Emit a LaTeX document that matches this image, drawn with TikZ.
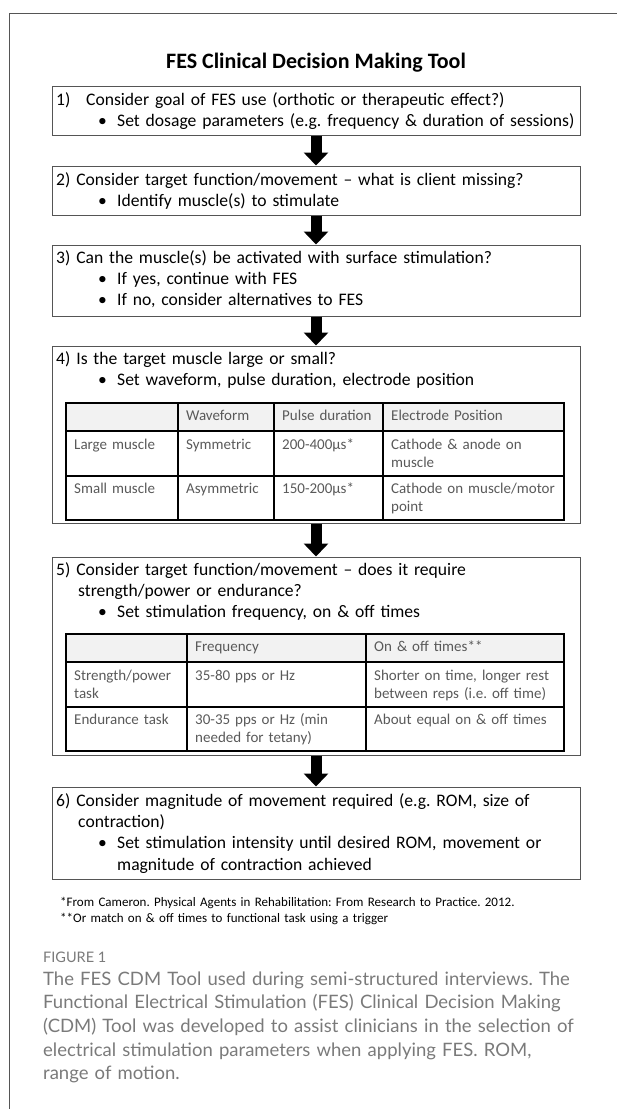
\documentclass[tikz,border=0pt]{standalone}
\usepackage{fontspec}
\setmainfont{Carlito}
\newfontfamily\capfont{Lato}
\usepackage{xcolor}
\usetikzlibrary{arrows.meta,calc,positioning}
\definecolor{boxgray}{HTML}{555555}
\definecolor{cellgray}{HTML}{595959}
\definecolor{headfill}{HTML}{F2F2F2}
\definecolor{capgray}{HTML}{7A7A7A}
\newcommand{\bul}{\hspace*{42pt}\makebox[19pt][l]{\textbullet}}
\frenchspacing

\begin{document}
\begin{tikzpicture}[x=1pt,y=-1pt,
  box/.style={draw=boxgray,line width=1pt,minimum width=528pt,inner sep=0pt},
  txt/.style={anchor=base west,inner sep=0pt,align=left,text width=540pt,font=\fontsize{17.6}{21.4}\selectfont},
  cell/.style={anchor=base west,inner sep=0pt,align=left,text width=180pt,text=cellgray,font=\fontsize{15}{18.3}\selectfont},
  tab/.style={line width=1.1pt},
  fat/.style={line width=11pt,-{Triangle[length=13pt,width=24pt]}}]
\useasboundingbox (0,0) rectangle (617,1109);
\draw[boxgray,line width=1pt] (617,13)--(9,13)--(9,1109);
\node[anchor=base,font=\bfseries\fontsize{22}{26}\selectfont] (title) at (316,68) {FES Clinical Decision Making Tool};
% step boxes
\node[box,minimum height=49pt] (b1) at (316,110.5) {};
\node[box,minimum height=49pt] (b2) at (316,190.5) {};
\node[box,minimum height=71pt] (b3) at (316,280.5) {};
\node[box,minimum height=177pt] (b4) at (316,434.5) {};
\node[box,minimum height=198pt] (b5) at (316,656) {};
\node[box,minimum height=92pt] (b6) at (316,833) {};
\draw[fat] (b1.south) -- (b2.north); \draw[fat] (b2.south) -- (b3.north);
\draw[fat] (b3.south) -- (b4.north); \draw[fat] (b4.south) -- (b5.north);
\draw[fat] (b5.south) -- (b6.north);
\node[txt] (t1) at (56,105) {\makebox[30pt][l]{1)}Consider goal of FES use (orthotic or therapeutic effect?)\\
  \bul Set dosage parameters (e.g. frequency \& duration of sessions)};
\node[txt] (t2) at (56,185) {2) Consider target function/movement -- what is client missing?\\
  \bul Identify muscle(s) to stimulate};
\node[txt] (t3) at (56,263) {3) Can the muscle(s) be activated with surface stimulation?\\
  \bul If yes, continue with FES\\ \bul If no, consider alternatives to FES};
\node[txt] (t4) at (56,364) {4) Is the target muscle large or small?\\
  \bul Set waveform, pulse duration, electrode position};
\node[txt] (t5) at (56,575) {5) Consider target function/movement -- does it require\\
  \hspace*{22pt}strength/power or endurance?\\ \bul Set stimulation frequency, on \& off times};
\node[txt] (t6) at (56,806) {6) Consider magnitude of movement required (e.g. ROM, size of\\
  \hspace*{22pt}contraction)\\ \bul Set stimulation intensity until desired ROM, movement or\\
  \hspace*{61pt}magnitude of contraction achieved};
% table of step 4
\fill[headfill] (66,403) rectangle (564,431);
\draw[tab] (66,403) rectangle (564,520);
\foreach \y in {431,476} \draw[tab] (66,\y) -- (564,\y);
\foreach \x in {178,274,383} \draw[tab] (\x,403) -- (\x,520);
\node[cell] (wf) at (186,420) {Waveform};
\node[cell] (pd) at (282,420) {Pulse duration};
\node[cell] (ep) at (391,420) {Electrode Position};
\node[cell] (lm) at (74,449) {Large muscle};
\node[cell] (lmw) at (186,449) {Symmetric};
\node[cell] (lmp) at (282,449) {200-400µs*};
\node[cell] (lme) at (391,449) {Cathode \& anode on\\muscle};
\node[cell] (sm) at (74,493) {Small muscle};
\node[cell] (smw) at (186,493) {Asymmetric};
\node[cell] (smp) at (282,493) {150-200µs*};
\node[cell] (sme) at (391,493) {Cathode on muscle/motor\\point};
% table of step 5
\fill[headfill] (66,634) rectangle (564,662);
\draw[tab] (66,634) rectangle (564,751);
\foreach \y in {662,707} \draw[tab] (66,\y) -- (564,\y);
\foreach \x in {187,366} \draw[tab] (\x,634) -- (\x,751);
\node[cell] (fq) at (195,651) {Frequency};
\node[cell] (oo) at (374,651) {On \& off times**};
\node[cell] (st) at (74,680) {Strength/power\\task};
\node[cell] (stf) at (195,680) {35-80 pps or Hz};
\node[cell] (sto) at (374,680) {Shorter on time, longer rest\\between reps (i.e. off time)};
\node[cell] (et) at (74,724) {Endurance task};
\node[cell] (etf) at (195,724) {30-35 pps or Hz (min\\needed for tetany)};
\node[cell] (eto) at (374,724) {About equal on \& off times};
% notes and caption
\node[anchor=base west,inner sep=0pt,align=left,text width=540pt,font=\fontsize{13}{16}\selectfont] (fn) at (60,906)
  {*From Cameron. Physical Agents in Rehabilitation: From Research to Practice. 2012.\\{}**Or match on \& off times to functional task using a trigger};
\node[anchor=base west,inner sep=0pt,text=capgray,font=\capfont\fontsize{14.5}{17}\selectfont] (fig) at (43,962) {FIGURE 1};
\node[anchor=base west,inner sep=0pt,align=left,text width=570pt,text=capgray,font=\capfont\fontsize{18.5}{23.7}\selectfont] (cap) at (43,985)
  {The FES CDM Tool used during semi-structured interviews. The\\
  Functional Electrical Stimulation (FES) Clinical Decision Making\\
  (CDM) Tool was developed to assist clinicians in the selection of\\
  electrical stimulation parameters when applying FES. ROM,\\
  range of motion.};
\end{tikzpicture}
\end{document}
